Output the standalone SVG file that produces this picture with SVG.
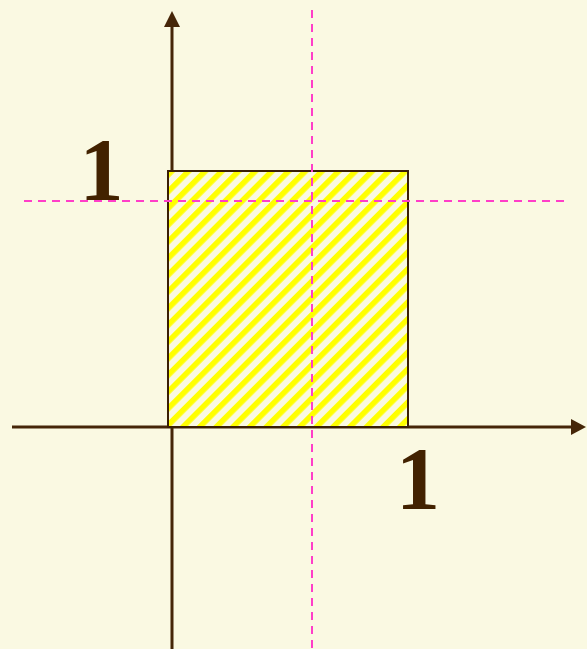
<svg xmlns="http://www.w3.org/2000/svg" width="587" height="649" viewBox="0 0 587 649">
  <defs>
    <pattern id="hatch" patternUnits="userSpaceOnUse" width="11.8" height="11.8" patternTransform="translate(168,171) rotate(45)">
      <rect x="0" y="0" width="11.8" height="11.8" fill="#FAF9E2"/>
      <rect x="0" y="0" width="5.6" height="11.8" fill="#FFFF00"/>
    </pattern>
  </defs>
  <style>
    .axis { stroke: #452608; stroke-width: 3; fill: none; }
    .arrow { fill: #452608; }
    .guide { stroke: #FF3EC8; stroke-width: 2; stroke-dasharray: 8 6; fill: none; }
    .label { font-family: "Liberation Serif", "Times New Roman", serif; font-weight: bold; font-size: 88px; fill: #422200; text-anchor: middle; }
  </style>
  <rect x="0" y="0" width="587" height="649" fill="#FAF9E2"/>
  <g id="axes">
    <line class="axis" x1="172" y1="26" x2="172" y2="649"/>
    <polygon class="arrow" points="172,11 164,27 180,27"/>
    <line class="axis" x1="12" y1="427" x2="572" y2="427"/>
    <polygon class="arrow" points="586,427 571,419 571,435"/>
  </g>
  <g id="square">
    <rect x="168" y="171" width="240" height="256" fill="url(#hatch)" stroke="#3A1F05" stroke-width="2"/>
  </g>
  <g id="guides">
    <line class="guide" x1="24" y1="201" x2="565" y2="201"/>
    <line class="guide" x1="312" y1="10" x2="312" y2="649"/>
  </g>
  <g id="labels">
    <text class="label" x="101.5" y="199">1</text>
    <text class="label" x="418" y="507.5">1</text>
  </g>
</svg>
